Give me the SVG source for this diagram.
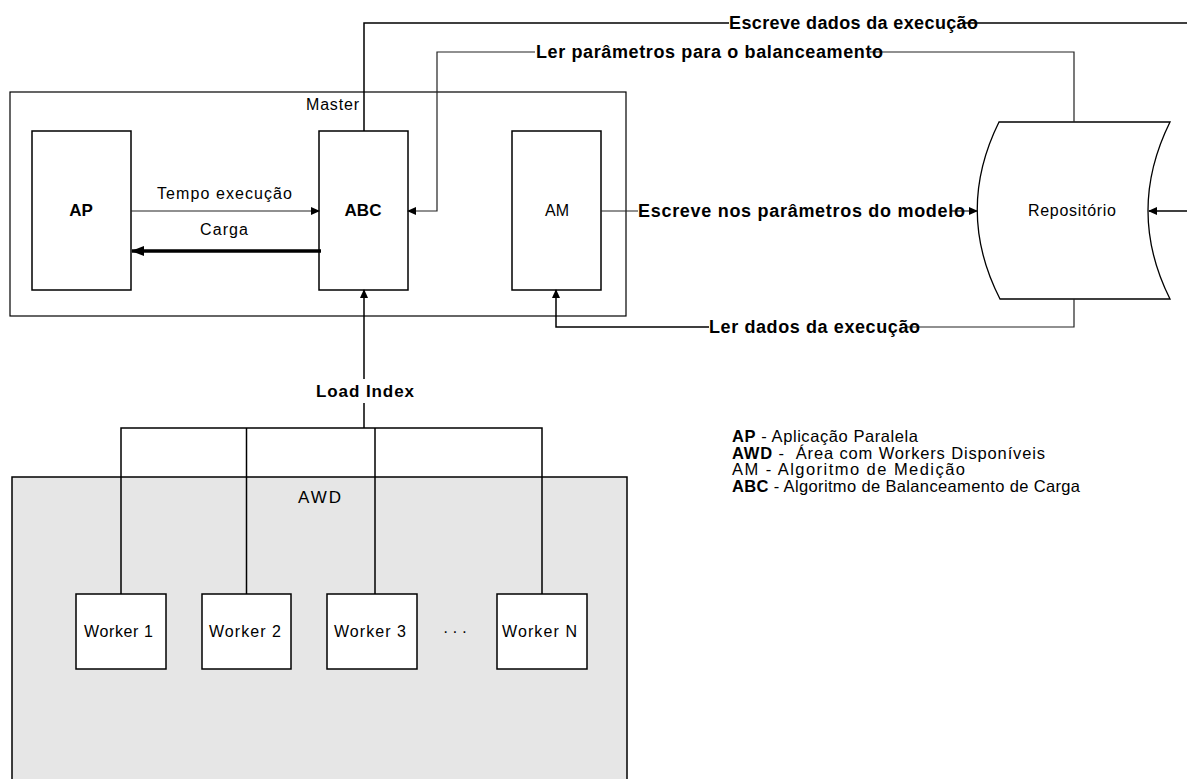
<svg xmlns="http://www.w3.org/2000/svg" width="1187" height="779" viewBox="0 0 1187 779">
<style>
text{font-family:"Liberation Sans",Arial,sans-serif;fill:#000}
.lbl{font-size:16px}
.b{font-weight:bold}
.big{font-size:18px;font-weight:bold}
.box{fill:#fff;stroke:#000;stroke-width:1.5}
.ln{fill:none;stroke:#000;stroke-width:1.5}
.thin{fill:none;stroke:#222;stroke-width:1.2}
.leg{font-size:16.5px}
</style>
<defs>
<marker id="arrow" markerUnits="userSpaceOnUse" markerWidth="9" markerHeight="8" refX="8" refY="4" orient="auto">
<path d="M0,0 L9,4 L0,8 z" fill="#000"/>
</marker>
<marker id="arrowBig" markerUnits="userSpaceOnUse" markerWidth="13" markerHeight="10" refX="12" refY="5" orient="auto">
<path d="M0,0 L13,5 L0,10 z" fill="#000"/>
</marker>
</defs>
<rect width="1187" height="779" fill="#fff"/>

<g id="master">
<rect x="10" y="92" width="616" height="224" fill="#fff" stroke="#000" stroke-width="1.2"/>
<text class="lbl" x="306" y="110" textLength="53">Master</text>
</g>
<g id="ap">
<rect class="box" x="32" y="131" width="99" height="159"/>
<text class="b" x="81" y="216" font-size="17" text-anchor="middle">AP</text>
</g>
<g id="abc">
<rect class="box" x="319" y="131" width="89" height="159"/>
<text class="b" x="363" y="216" font-size="17" text-anchor="middle">ABC</text>
</g>
<g id="am">
<rect class="box" x="512" y="131" width="89" height="159"/>
<text x="557" y="216" font-size="16" text-anchor="middle">AM</text>
</g>
<g id="repositorio">
<path d="M999,122 L1170,122 Q1126,211 1170,299 L1000,299 Q955,211 999,122 Z" fill="#fff" stroke="#000" stroke-width="1.3"/>
<text class="lbl" x="1028" y="216" textLength="88">Repositório</text>
</g>
<g id="awd">
<rect x="12" y="477" width="615" height="330" fill="#e6e6e6" stroke="#000" stroke-width="1.5"/>
<text x="298" y="503" font-size="17" textLength="43">AWD</text>
</g>
<g id="worker1">
<rect class="box" x="76" y="594" width="90" height="75"/>
<text class="lbl" x="84" y="637" textLength="69">Worker 1</text>
</g>
<g id="worker2">
<rect class="box" x="202" y="594" width="89" height="75"/>
<text class="lbl" x="209" y="637" textLength="72">Worker 2</text>
</g>
<g id="worker3">
<rect class="box" x="327" y="594" width="90" height="75"/>
<text class="lbl" x="334" y="637" textLength="72">Worker 3</text>
</g>
<g id="dots">
<text class="lbl" x="443" y="637" textLength="24">···</text>
</g>
<g id="workerN">
<rect class="box" x="497" y="594" width="90" height="75"/>
<text class="lbl" x="502" y="637" textLength="75">Worker N</text>
</g>

<g id="legend">
<text class="leg" x="732" y="442" textLength="186"><tspan class="b">AP</tspan> - Aplicação Paralela</text>
<text class="leg" x="732" y="459" textLength="313" xml:space="preserve"><tspan class="b">AWD</tspan> -  Área com Workers Disponíveis</text>
<text class="leg" x="732" y="475" textLength="233">AM - Algoritmo de Medição</text>
<text class="leg" x="732" y="492" textLength="348"><tspan class="b">ABC</tspan> - Algoritmo de Balanceamento de Carga</text>
</g>

<g id="connectors">
<!-- Tempo execucao -->
<line class="thin" x1="131" y1="211" x2="319" y2="211" marker-end="url(#arrow)"/>
<text class="lbl" x="157" y="199" textLength="135">Tempo execução</text>
<!-- Carga -->
<line x1="321" y1="251" x2="132" y2="251" stroke="#000" stroke-width="3.5" marker-end="url(#arrowBig)"/>
<text class="lbl" x="200" y="235" textLength="48">Carga</text>
<!-- Escreve dados da execucao -->
<path class="ln" stroke-width="2" d="M364,131 L364,23 L729,23"/>
<path class="ln" stroke-width="2" d="M962,23 L1187,23"/>
<line class="ln" x1="1187" y1="211" x2="1149" y2="211" marker-end="url(#arrow)"/>
<text class="big" x="729" y="29" textLength="249">Escreve dados da execução</text>
<!-- Ler parametros para o balanceamento -->
<path class="thin" d="M1074,122 L1074,52 L870,52"/>
<path class="thin" d="M535,52 L437,52 L437,211 L408,211" marker-end="url(#arrow)"/>
<text class="big" x="536" y="58" textLength="347">Ler parâmetros para o balanceamento</text>
<!-- Escreve nos parametros do modelo -->
<line class="thin" x1="601" y1="211" x2="638" y2="211"/>
<line class="thin" x1="950" y1="211" x2="977" y2="211" marker-end="url(#arrow)"/>
<text class="big" x="638" y="217" textLength="327">Escreve nos parâmetros do modelo</text>
<!-- Ler dados da execucao -->
<path class="thin" d="M1074,299 L1074,327 L905,327"/>
<path class="ln" d="M709,327 L556,327 L556,290" marker-end="url(#arrow)"/>
<text class="big" x="709" y="333" textLength="211">Ler dados da execução</text>
<!-- Load Index -->
<line class="ln" x1="364" y1="379" x2="364" y2="290" marker-end="url(#arrow)"/>
<line class="ln" x1="364" y1="403" x2="364" y2="428"/>
<text class="b" x="316" y="397" font-size="17" textLength="98">Load Index</text>
<!-- bus to workers -->
<path class="ln" d="M121,594 L121,428 L542,428 L542,594"/>
<line class="ln" x1="246.5" y1="428" x2="246.5" y2="594"/>
<line class="ln" x1="375" y1="428" x2="375" y2="594"/>
</g>
</svg>
